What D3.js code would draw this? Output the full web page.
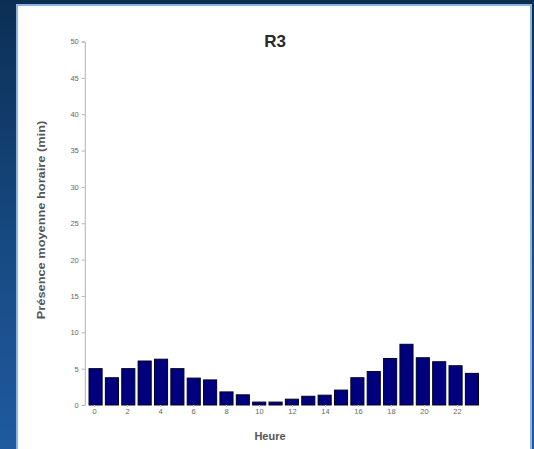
<!DOCTYPE html>
<html>
<head>
<meta charset="utf-8">
<script src="https://cdn.jsdelivr.net/npm/d3@7"></script>
<style>
html,body{margin:0;padding:0;background:#0a2d50;}
svg{display:block;}
</style>
</head>
<body>
<svg id="chart" width="534" height="449"></svg>
<script>
const hours = d3.range(0, 24);
const presence = [5.0, 3.75, 5.0, 6.05, 6.3, 5.0, 3.7, 3.45, 1.8, 1.4, 0.4, 0.4, 0.8, 1.2, 1.35, 2.05, 3.75, 4.6, 6.4, 8.35, 6.5, 5.95, 5.4, 4.35];
const yTicks = [0, 5, 10, 15, 20, 25, 30, 35, 40, 45, 50];
const xTicks = [0, 2, 4, 6, 8, 10, 12, 14, 16, 18, 20, 22];
const title = "R3";
const yLabel = "Présence moyenne horaire (min)";
const xLabel = "Heure";

(function () {
const svg = d3.select("#chart");
const W = 534, H = 449;

// background
const defs = svg.append("defs");
const lg = defs.append("linearGradient").attr("id", "bgl").attr("x1", 0).attr("y1", 0).attr("x2", 0).attr("y2", 1);
lg.append("stop").attr("offset", "0%").attr("stop-color", "#0b2f54");
lg.append("stop").attr("offset", "55%").attr("stop-color", "#164a82");
lg.append("stop").attr("offset", "100%").attr("stop-color", "#1f5aa0");
svg.append("rect").attr("width", W).attr("height", H).attr("fill", "#0a2d50");
svg.append("rect").attr("x", 0).attr("y", 0).attr("width", 18).attr("height", H).attr("fill", "url(#bgl)");
svg.append("rect").attr("x", 531).attr("y", 0).attr("width", 3).attr("height", H).attr("fill", "url(#bgl)");

// white panel with light blue border
svg.append("rect").attr("x", 17).attr("y", 5).attr("width", 514).attr("height", H)
  .attr("fill", "#ffffff").attr("stroke", "#8fb4de").attr("stroke-width", 2);

const x0 = -0.5, x1 = 23.5;
const pLeft = 85.75, pRight = 481.75, pTop = 41.5, pBottom = 405;
const x = d3.scaleBand().domain(hours).range([pLeft, pRight]).padding(0.2);
const xl = d3.scaleLinear().domain([x0, x1]).range([pLeft, pRight]);
const y = d3.scaleLinear().domain([0, 50]).range([pBottom, pTop]);

// bars
svg.append("g").selectAll("rect").data(hours).join("rect")
  .attr("x", d => x(d))
  .attr("width", x.bandwidth())
  .attr("y", d => y(presence[d]))
  .attr("height", d => y(0) - y(presence[d]))
  .attr("fill", "#00007e")
  .attr("stroke", "#000022")
  .attr("stroke-width", 1);

// y axis
const ya = svg.append("g").attr("transform", `translate(${pLeft - 1},0)`)
  .call(d3.axisLeft(y).tickValues(yTicks).tickSize(3).tickPadding(3));
ya.select(".domain").attr("stroke", "#b0b0b0");
ya.selectAll(".tick line").attr("stroke", "#b0b0b0");
ya.selectAll("text").attr("fill", "#666").style("font-family", "Liberation Sans, Arial, sans-serif").style("font-size", "7.5px");

// x axis
const xa = svg.append("g").attr("transform", `translate(0,${pBottom})`)
  .call(d3.axisBottom(xl).tickValues(xTicks).tickFormat(d3.format("d")).tickSize(2).tickPadding(2));
xa.select(".domain").remove();
xa.selectAll(".tick line").attr("stroke", "#c8c8c8");
xa.selectAll("text").attr("fill", "#666").style("font-family", "Liberation Sans, Arial, sans-serif").style("font-size", "7.5px");

// title
svg.append("text").attr("x", 275).attr("y", 47).attr("text-anchor", "middle")
  .style("font-family", "Liberation Sans, Arial, sans-serif").style("font-size", "17px").style("font-weight", "bold")
  .attr("fill", "#2a2a2a").text(title);

// y label (stretched along its length, as in the reference)
svg.append("text").attr("transform", "translate(45,220) rotate(-90) scale(1.22,1)").attr("text-anchor", "middle")
  .style("font-family", "Liberation Sans, Arial, sans-serif").style("font-size", "10.5px").style("font-weight", "bold")
  .attr("fill", "#555").text(yLabel);

// x label
svg.append("text").attr("x", 270).attr("y", 440).attr("text-anchor", "middle")
  .style("font-family", "Liberation Sans, Arial, sans-serif").style("font-size", "11px").style("font-weight", "bold")
  .attr("fill", "#555").text(xLabel);
})();
</script>
</body>
</html>
